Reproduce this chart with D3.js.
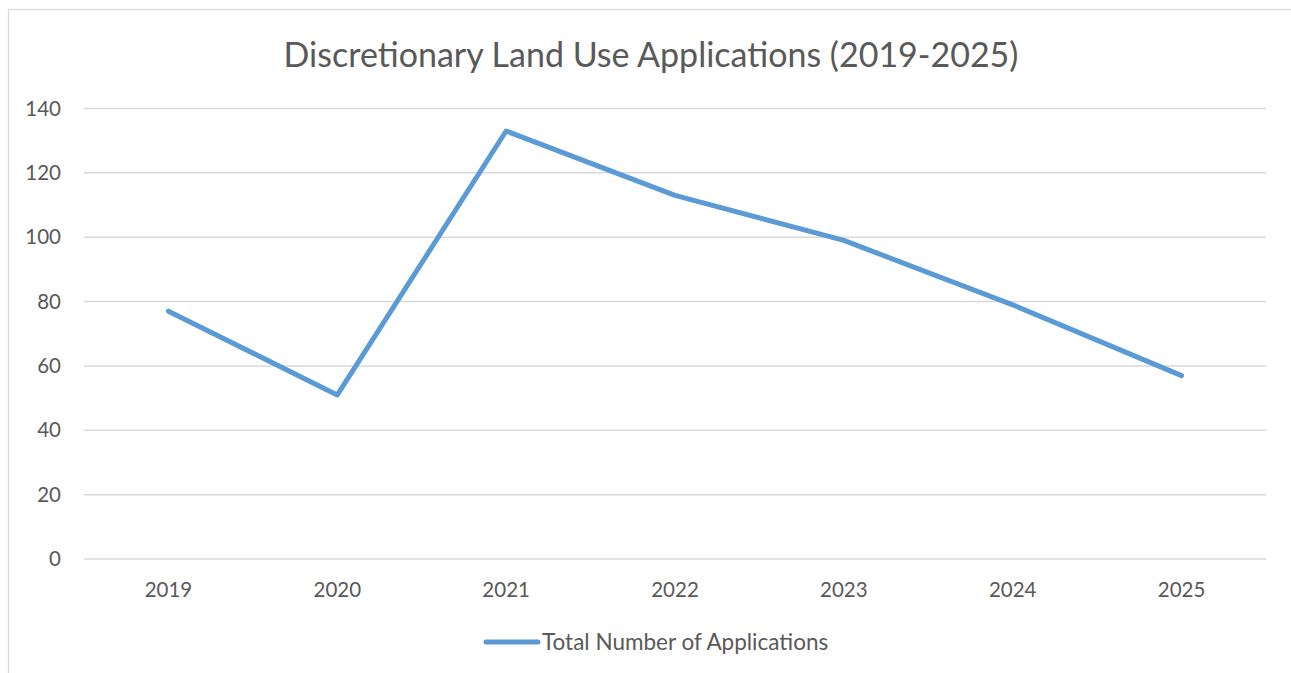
<!DOCTYPE html>
<meta charset="utf-8">
<style>
body { margin: 0; background: #fff; }
svg { display: block; }
text { font-family: Lato, "Open Sans", sans-serif; fill: #595959; }
</style>
<body>
<div id="chart"><svg></svg></div>
<script src="https://cdn.jsdelivr.net/npm/d3@7"></script>
<script>

// chart data
var years = ["2019", "2020", "2021", "2022", "2023", "2024", "2025"];
var applications = [77, 51, 133, 113, 99, 79, 57];
var yTicks = [0, 20, 40, 60, 80, 100, 120, 140];
var seriesName = "Total Number of Applications";
var title = "Discretionary Land Use Applications (2019-2025)";

var width = 1291, height = 673;
var plotLeft = 84, plotRight = 1266, plotTop = 108.5, plotBottom = 559;

var svg = d3.select("#chart svg")
    .attr("width", width)
    .attr("height", height);

// outer frame
svg.append("rect")
    .attr("x", 8.5).attr("y", 9.5)
    .attr("width", 1290).attr("height", 700)
    .attr("fill", "none")
    .attr("stroke", "#d9d9d9")
    .attr("stroke-width", 1.3);

var x = d3.scaleBand().domain(years).range([plotLeft, plotRight]);
var y = d3.scaleLinear().domain([0, 140]).range([plotBottom, plotTop]);

// gridlines
svg.append("g")
    .selectAll("line")
    .data(yTicks)
    .join("line")
    .attr("x1", plotLeft).attr("x2", plotRight)
    .attr("y1", d => y(d)).attr("y2", d => y(d))
    .attr("stroke", "#d9d9d9")
    .attr("stroke-width", 1.5);

// y labels
svg.append("g")
    .selectAll("text")
    .data(yTicks)
    .join("text")
    .attr("x", 61)
    .attr("y", d => y(d))
    .attr("dy", "0.35em")
    .attr("text-anchor", "end")
    .style("font-size", "20.5px")
    .text(d => d);

// x labels
svg.append("g")
    .selectAll("text")
    .data(years)
    .join("text")
    .attr("x", d => x(d) + x.bandwidth() / 2)
    .attr("y", 590)
    .attr("dy", "0.35em")
    .attr("text-anchor", "middle")
    .style("font-size", "20.5px")
    .text(d => d);

// line
var line = d3.line()
    .x((d, i) => x(years[i]) + x.bandwidth() / 2)
    .y(d => y(d));

svg.append("path")
    .datum(applications)
    .attr("d", line)
    .attr("fill", "none")
    .attr("stroke", "#5b9bd5")
    .attr("stroke-width", 5)
    .attr("stroke-linecap", "round")
    .attr("stroke-linejoin", "round");

// title
svg.append("text")
    .attr("x", 651)
    .attr("y", 55)
    .attr("dy", "0.35em")
    .attr("text-anchor", "middle")
    .style("font-size", "34px")
    .text(title);

// legend
svg.append("line")
    .attr("x1", 486).attr("x2", 538)
    .attr("y1", 642).attr("y2", 642)
    .attr("stroke", "#5b9bd5")
    .attr("stroke-width", 5)
    .attr("stroke-linecap", "round");

svg.append("text")
    .attr("x", 542)
    .attr("y", 642)
    .attr("dy", "0.35em")
    .style("font-size", "22.5px")
    .text(seriesName);

</script>
</body>
